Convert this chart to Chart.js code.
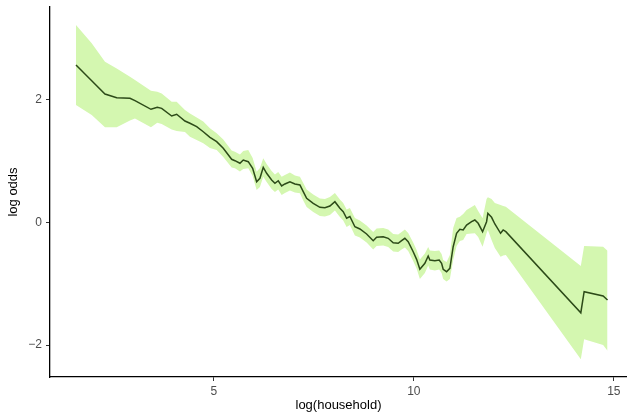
<!DOCTYPE html>
<html>
<head>
<meta charset="utf-8">
<script src="https://cdn.jsdelivr.net/npm/chart.js@4/dist/chart.umd.min.js"></script>
<style>
  html,body{margin:0;padding:0;background:#fff;}
  #wrap{width:627px;height:414px;}
</style>
</head>
<body>
<div id="wrap"><canvas id="c" width="627" height="414"></canvas></div>
<script>
// log(household) positions of the smoothed estimate
const logHousehold = [1.55, 1.943, 2.275, 2.568, 2.9, 3.025, 3.425, 3.583, 3.693, 3.943,
  4.068, 4.275, 4.4, 4.568, 4.733, 4.9, 5.068, 5.233, 5.443, 5.525,
  5.65, 5.733, 5.858, 5.968, 6.068, 6.15, 6.233, 6.318, 6.443, 6.525,
  6.608, 6.693, 6.775, 6.9, 7.025, 7.15, 7.233, 7.318, 7.483, 7.65,
  7.775, 7.9, 8.025, 8.15, 8.233, 8.318, 8.4, 8.525, 8.65, 8.818,
  8.983, 9.068, 9.233, 9.358, 9.483, 9.608, 9.693, 9.775, 9.858, 9.983,
  10.068, 10.15, 10.275, 10.358, 10.4, 10.525, 10.633, 10.693, 10.733, 10.818,
  10.9, 10.983, 11.068, 11.15, 11.233, 11.318, 11.443, 11.525, 11.608, 11.718,
  11.818, 11.85, 11.943, 12.025, 12.168, 12.233, 12.3, 14.175, 14.258, 14.733,
  14.843];
// fitted log odds
const logOdds = [2.571, 2.315, 2.098, 2.038, 2.028, 1.989, 1.848, 1.881, 1.864, 1.739,
  1.767, 1.657, 1.620, 1.564, 1.482, 1.391, 1.319, 1.211, 1.032, 1.009,
  0.967, 1.020, 0.993, 0.885, 0.666, 0.722, 0.901, 0.803, 0.694, 0.640,
  0.682, 0.596, 0.629, 0.666, 0.629, 0.612, 0.503, 0.395, 0.313, 0.248,
  0.242, 0.269, 0.340, 0.232, 0.176, 0.069, 0.098, -0.069, -0.106, -0.188,
  -0.297, -0.242, -0.232, -0.258, -0.330, -0.340, -0.297, -0.258, -0.313, -0.477,
  -0.601, -0.764, -0.666, -0.547, -0.612, -0.624, -0.612, -0.666, -0.764, -0.803,
  -0.748, -0.395, -0.176, -0.111, -0.122, -0.041, 0.013, 0.041, -0.013, -0.150,
  0.013, 0.150, 0.085, -0.024, -0.176, -0.122, -0.150, -1.473, -1.130, -1.200,
  -1.265];
// confidence band
const upperBand = [3.224, 2.926, 2.625, 2.514, 2.380, 2.327, 2.152, 2.136, 2.106, 1.972,
  1.972, 1.837, 1.780, 1.714, 1.649, 1.538, 1.456, 1.355, 1.176, 1.156,
  1.110, 1.167, 1.184, 1.053, 0.829, 0.890, 1.048, 0.955, 0.841, 0.784,
  0.824, 0.748, 0.776, 0.816, 0.767, 0.748, 0.645, 0.539, 0.457, 0.392,
  0.384, 0.416, 0.482, 0.376, 0.318, 0.212, 0.237, 0.073, 0.033, -0.049,
  -0.155, -0.098, -0.090, -0.114, -0.188, -0.196, -0.155, -0.114, -0.171, -0.327,
  -0.449, -0.604, -0.506, -0.400, -0.457, -0.465, -0.457, -0.514, -0.612, -0.645,
  -0.531, -0.090, 0.073, 0.095, 0.139, 0.204, 0.253, 0.286, 0.188, 0.069,
  0.384, 0.411, 0.384, 0.318, 0.286, 0.269, 0.258, -0.710, -0.384, -0.395,
  -0.460];
const lowerBand = [1.918, 1.755, 1.554, 1.554, 1.665, 1.698, 1.554, 1.629, 1.608, 1.518,
  1.494, 1.478, 1.401, 1.347, 1.293, 1.216, 1.184, 1.069, 0.898, 0.885,
  0.833, 0.873, 0.885, 0.759, 0.531, 0.580, 0.748, 0.661, 0.547, 0.498,
  0.539, 0.449, 0.482, 0.522, 0.490, 0.477, 0.359, 0.253, 0.171, 0.106,
  0.098, 0.122, 0.196, 0.090, 0.033, -0.073, -0.041, -0.212, -0.245, -0.327,
  -0.441, -0.384, -0.376, -0.400, -0.473, -0.482, -0.441, -0.408, -0.465, -0.629,
  -0.751, -0.922, -0.824, -0.702, -0.767, -0.784, -0.767, -0.824, -0.922, -0.963,
  -0.922, -0.612, -0.384, -0.302, -0.286, -0.188, -0.180, -0.176, -0.237, -0.395,
  -0.176, -0.122, -0.286, -0.416, -0.558, -0.539, -0.531, -2.233, -1.907, -2.000,
  -2.093];
const xTicks = [5, 10, 15];
const yTicks = [-2, 0, 2];

const FONT = "'Liberation Sans', Arial, Helvetica, sans-serif";
const pts = arr => logHousehold.map((x, i) => ({x, y: arr[i]}));

const axisCommon = {
  type: 'linear',
  grid: {display: true, drawOnChartArea: false, drawTicks: true, tickLength: 4, color: '#333', lineWidth: 1},
  border: {display: true, color: '#000', width: 1.3},
  ticks: {color: '#4d4d4d', font: {family: FONT, size: 12}, callback: v => String(v).replace('-', '\u2212')}
};

// dataset 0 is painted last, so the fitted line goes first
new Chart(document.getElementById('c'), {
  type: 'line',
  data: {
    datasets: [
      {label: 'fit', data: pts(logOdds), borderColor: '#2c4a18', borderWidth: 1.5, pointRadius: 0,
        fill: false, tension: 0},
      {label: 'lower', data: pts(lowerBand), borderWidth: 0, pointRadius: 0, fill: false, tension: 0},
      {label: 'upper', data: pts(upperBand), borderWidth: 0, pointRadius: 0, fill: '-1',
        backgroundColor: 'rgb(212,247,176)', tension: 0}
    ]
  },
  options: {
    responsive: false,
    animation: false,
    layout: {padding: {top: 7, right: 0, bottom: 0, left: 0}},
    plugins: {legend: {display: false}, tooltip: {enabled: false}},
    scales: {
      x: Object.assign({}, axisCommon, {
        min: 0.9, max: 15.33,
        ticks: Object.assign({}, axisCommon.ticks, {padding: 3}),
        afterBuildTicks: s => { s.ticks = xTicks.map(v => ({value: v})); },
        afterFit: s => { s.height = 37; s.paddingLeft = 0; s.paddingRight = 0; },
        title: {display: true, text: 'log(household)', color: '#000', font: {family: FONT, size: 13}, padding: {top: 2, bottom: 1}}
      }),
      y: Object.assign({}, axisCommon, {
        min: -2.522, max: 3.518,
        ticks: Object.assign({}, axisCommon.ticks, {padding: 4}),
        afterBuildTicks: s => { s.ticks = yTicks.map(v => ({value: v})); },
        afterFit: s => { s.width = 50; s.paddingTop = 0; s.paddingBottom = 0; },
        title: {display: true, text: 'log odds', color: '#000', font: {family: FONT, size: 13}, padding: {top: 6, bottom: 2}}
      })
    }
  }
});
</script>
</body>
</html>
